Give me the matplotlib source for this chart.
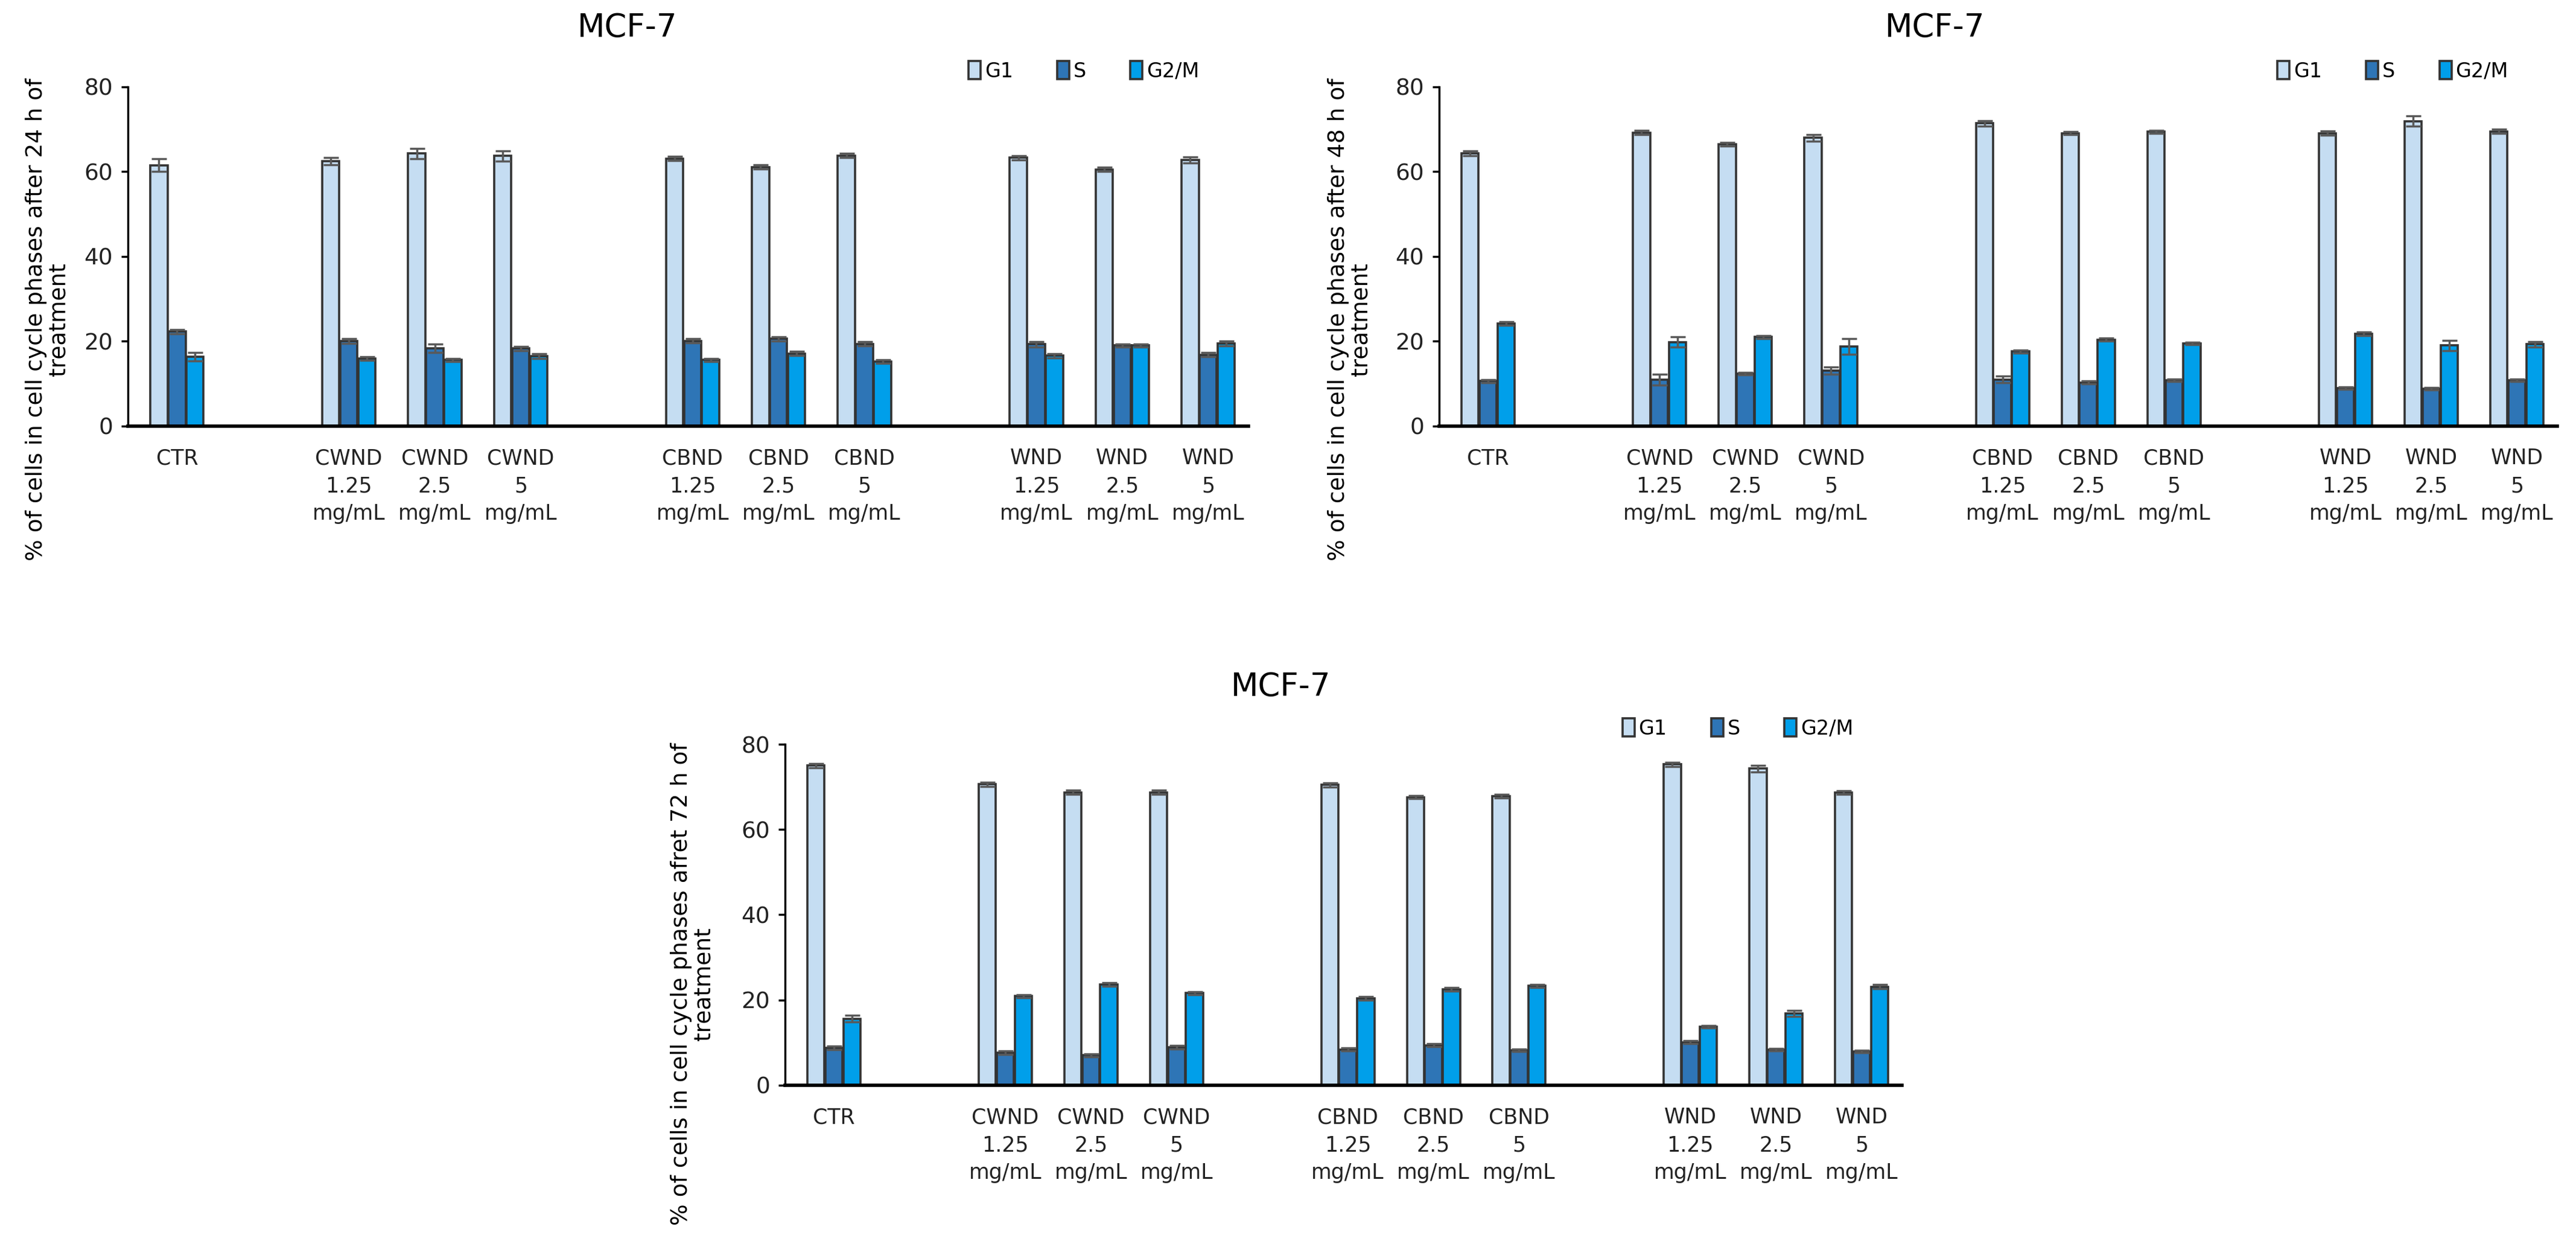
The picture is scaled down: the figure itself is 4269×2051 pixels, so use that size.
import numpy as np
import matplotlib
matplotlib.use("Agg")
import matplotlib.pyplot as plt

plt.rcParams['font.family'] = ['DejaVu Sans']

categories = ["CTR",
              "CWND\n1.25\nmg/mL", "CWND\n2.5\nmg/mL", "CWND\n5\nmg/mL",
              "CBND\n1.25\nmg/mL", "CBND\n2.5\nmg/mL", "CBND\n5\nmg/mL",
              "WND\n1.25\nmg/mL", "WND\n2.5\nmg/mL", "WND\n5\nmg/mL"]
group_sizes = [1, 3, 3, 3]
phases = ["G1", "S", "G2/M"]

g1_24 = [61.5, 62.5, 64.3, 63.7, 63.1, 61.1, 63.8, 63.3, 60.5, 62.8]
s_24 = [22.3, 20.1, 18.4, 18.3, 20.1, 20.6, 19.4, 19.3, 19.0, 16.8]
g2m_24 = [16.4, 15.9, 15.6, 16.5, 15.6, 17.1, 15.2, 16.6, 19.0, 19.5]
g1_24_err = [1.5, 0.8, 1.2, 1.2, 0.5, 0.5, 0.5, 0.5, 0.5, 0.7]
s_24_err = [0.5, 0.6, 1.0, 0.5, 0.5, 0.5, 0.5, 0.6, 0.4, 0.5]
g2m_24_err = [1.0, 0.4, 0.4, 0.6, 0.4, 0.5, 0.4, 0.5, 0.4, 0.6]

g1_48 = [64.3, 69.2, 66.5, 68.0, 71.4, 69.1, 69.4, 69.1, 71.9, 69.5]
s_48 = [10.6, 11.0, 12.4, 13.1, 11.0, 10.3, 10.8, 9.0, 8.8, 10.8]
g2m_48 = [24.2, 19.8, 21.0, 18.8, 17.6, 20.4, 19.5, 21.8, 19.0, 19.3]
g1_48_err = [0.6, 0.5, 0.4, 0.8, 0.6, 0.4, 0.4, 0.5, 1.2, 0.5]
s_48_err = [0.4, 1.3, 0.3, 0.8, 0.8, 0.4, 0.3, 0.3, 0.3, 0.3]
g2m_48_err = [0.4, 1.2, 0.4, 1.8, 0.4, 0.4, 0.3, 0.4, 1.2, 0.6]

g1_72 = [75.0, 70.6, 68.7, 68.7, 70.5, 67.6, 67.8, 75.3, 74.3, 68.7]
s_72 = [8.8, 7.6, 7.0, 8.9, 8.4, 9.4, 8.2, 10.1, 8.3, 7.9]
g2m_72 = [15.6, 20.9, 23.6, 21.6, 20.4, 22.5, 23.3, 13.7, 16.9, 23.1]
g1_72_err = [0.5, 0.5, 0.5, 0.5, 0.5, 0.4, 0.4, 0.5, 0.8, 0.4]
s_72_err = [0.4, 0.4, 0.3, 0.4, 0.3, 0.3, 0.3, 0.3, 0.3, 0.3]
g2m_72_err = [0.8, 0.4, 0.4, 0.4, 0.4, 0.4, 0.4, 0.3, 0.7, 0.5]

ylabels = ["% of cells in cell cycle phases after 24 h of\ntreatment",
           "% of cells in cell cycle phases after 48 h of\ntreatment",
           "% of cells in cell cycle phases afret 72 h of\ntreatment"]
title = "MCF-7"
colors = ["#C5DDF2", "#2E75B6", "#009FEA"]

# category slots: one empty slot between treatment groups
slots = []
pos = 0
for n in group_sizes:
    slots += list(range(pos, pos + n))
    pos += n + 1
slots = np.array(slots)
n_slots = slots[-1] + 1

fig = plt.figure(figsize=(42.69, 20.51), dpi=100)

panels = [
    ([0.0497, 0.6558, 0.435, 0.274], (g1_24, s_24, g2m_24), (g1_24_err, s_24_err, g2m_24_err), ylabels[0], (0.2436, 0.9776), (0.0185, 0.742)),
    ([0.5587, 0.6558, 0.434, 0.274], (g1_48, s_48, g2m_48), (g1_48_err, s_48_err, g2m_48_err), ylabels[1], (0.7512, 0.9776), (0.5240, 0.742)),
    ([0.3048, 0.1234, 0.4335, 0.2754], (g1_72, s_72, g2m_72), (g1_72_err, s_72_err, g2m_72_err), ylabels[2], (0.4973, 0.4451), (0.2690, 0.205)),
]

w = 0.2
for rect, vals, errs, ylab, tpos, lpos in panels:
    ax = fig.add_axes(rect)
    for k in range(3):
        x = slots + (k - 1) * (w + 0.01)
        ax.bar(x, vals[k], w, color=colors[k], edgecolor="#333333", linewidth=2.6,
               label=phases[k], zorder=2)
        ax.errorbar(x, vals[k], yerr=errs[k], fmt="none", ecolor="#595959",
                    elinewidth=2.5, capsize=9, capthick=2.5, zorder=3)
    ax.set_xlim(-0.57, n_slots - 1 + 0.47)
    ax.set_ylim(0, 80)
    ax.set_yticks([0, 20, 40, 60, 80])
    ax.set_xticks(slots)
    ax.set_xticklabels(categories, fontsize=25, linespacing=1.45, color="#222222")
    ax.tick_params(axis="x", length=0, pad=26)
    ax.tick_params(axis="y", labelsize=27, length=8, width=2.5, direction="out", pad=10,
                   labelcolor="#222222")
    for sp in ["top", "right"]:
        ax.spines[sp].set_visible(False)
    ax.spines["left"].set_linewidth(2.5)
    ax.spines["bottom"].set_linewidth(4)
    ax.legend(loc="center", bbox_to_anchor=(0.853, 1.046), ncol=3, frameon=False,
              fontsize=24, handlelength=0.6, handleheight=1.0, handletextpad=0.2,
              columnspacing=2.2)
    fig.text(tpos[0], tpos[1], title, fontsize=38, ha="center", va="center")
    fig.text(lpos[0], lpos[1], ylab, fontsize=27, rotation=90, ha="center", va="center",
             multialignment="center", linespacing=1.1)

fig.savefig("out.png", dpi=100)
